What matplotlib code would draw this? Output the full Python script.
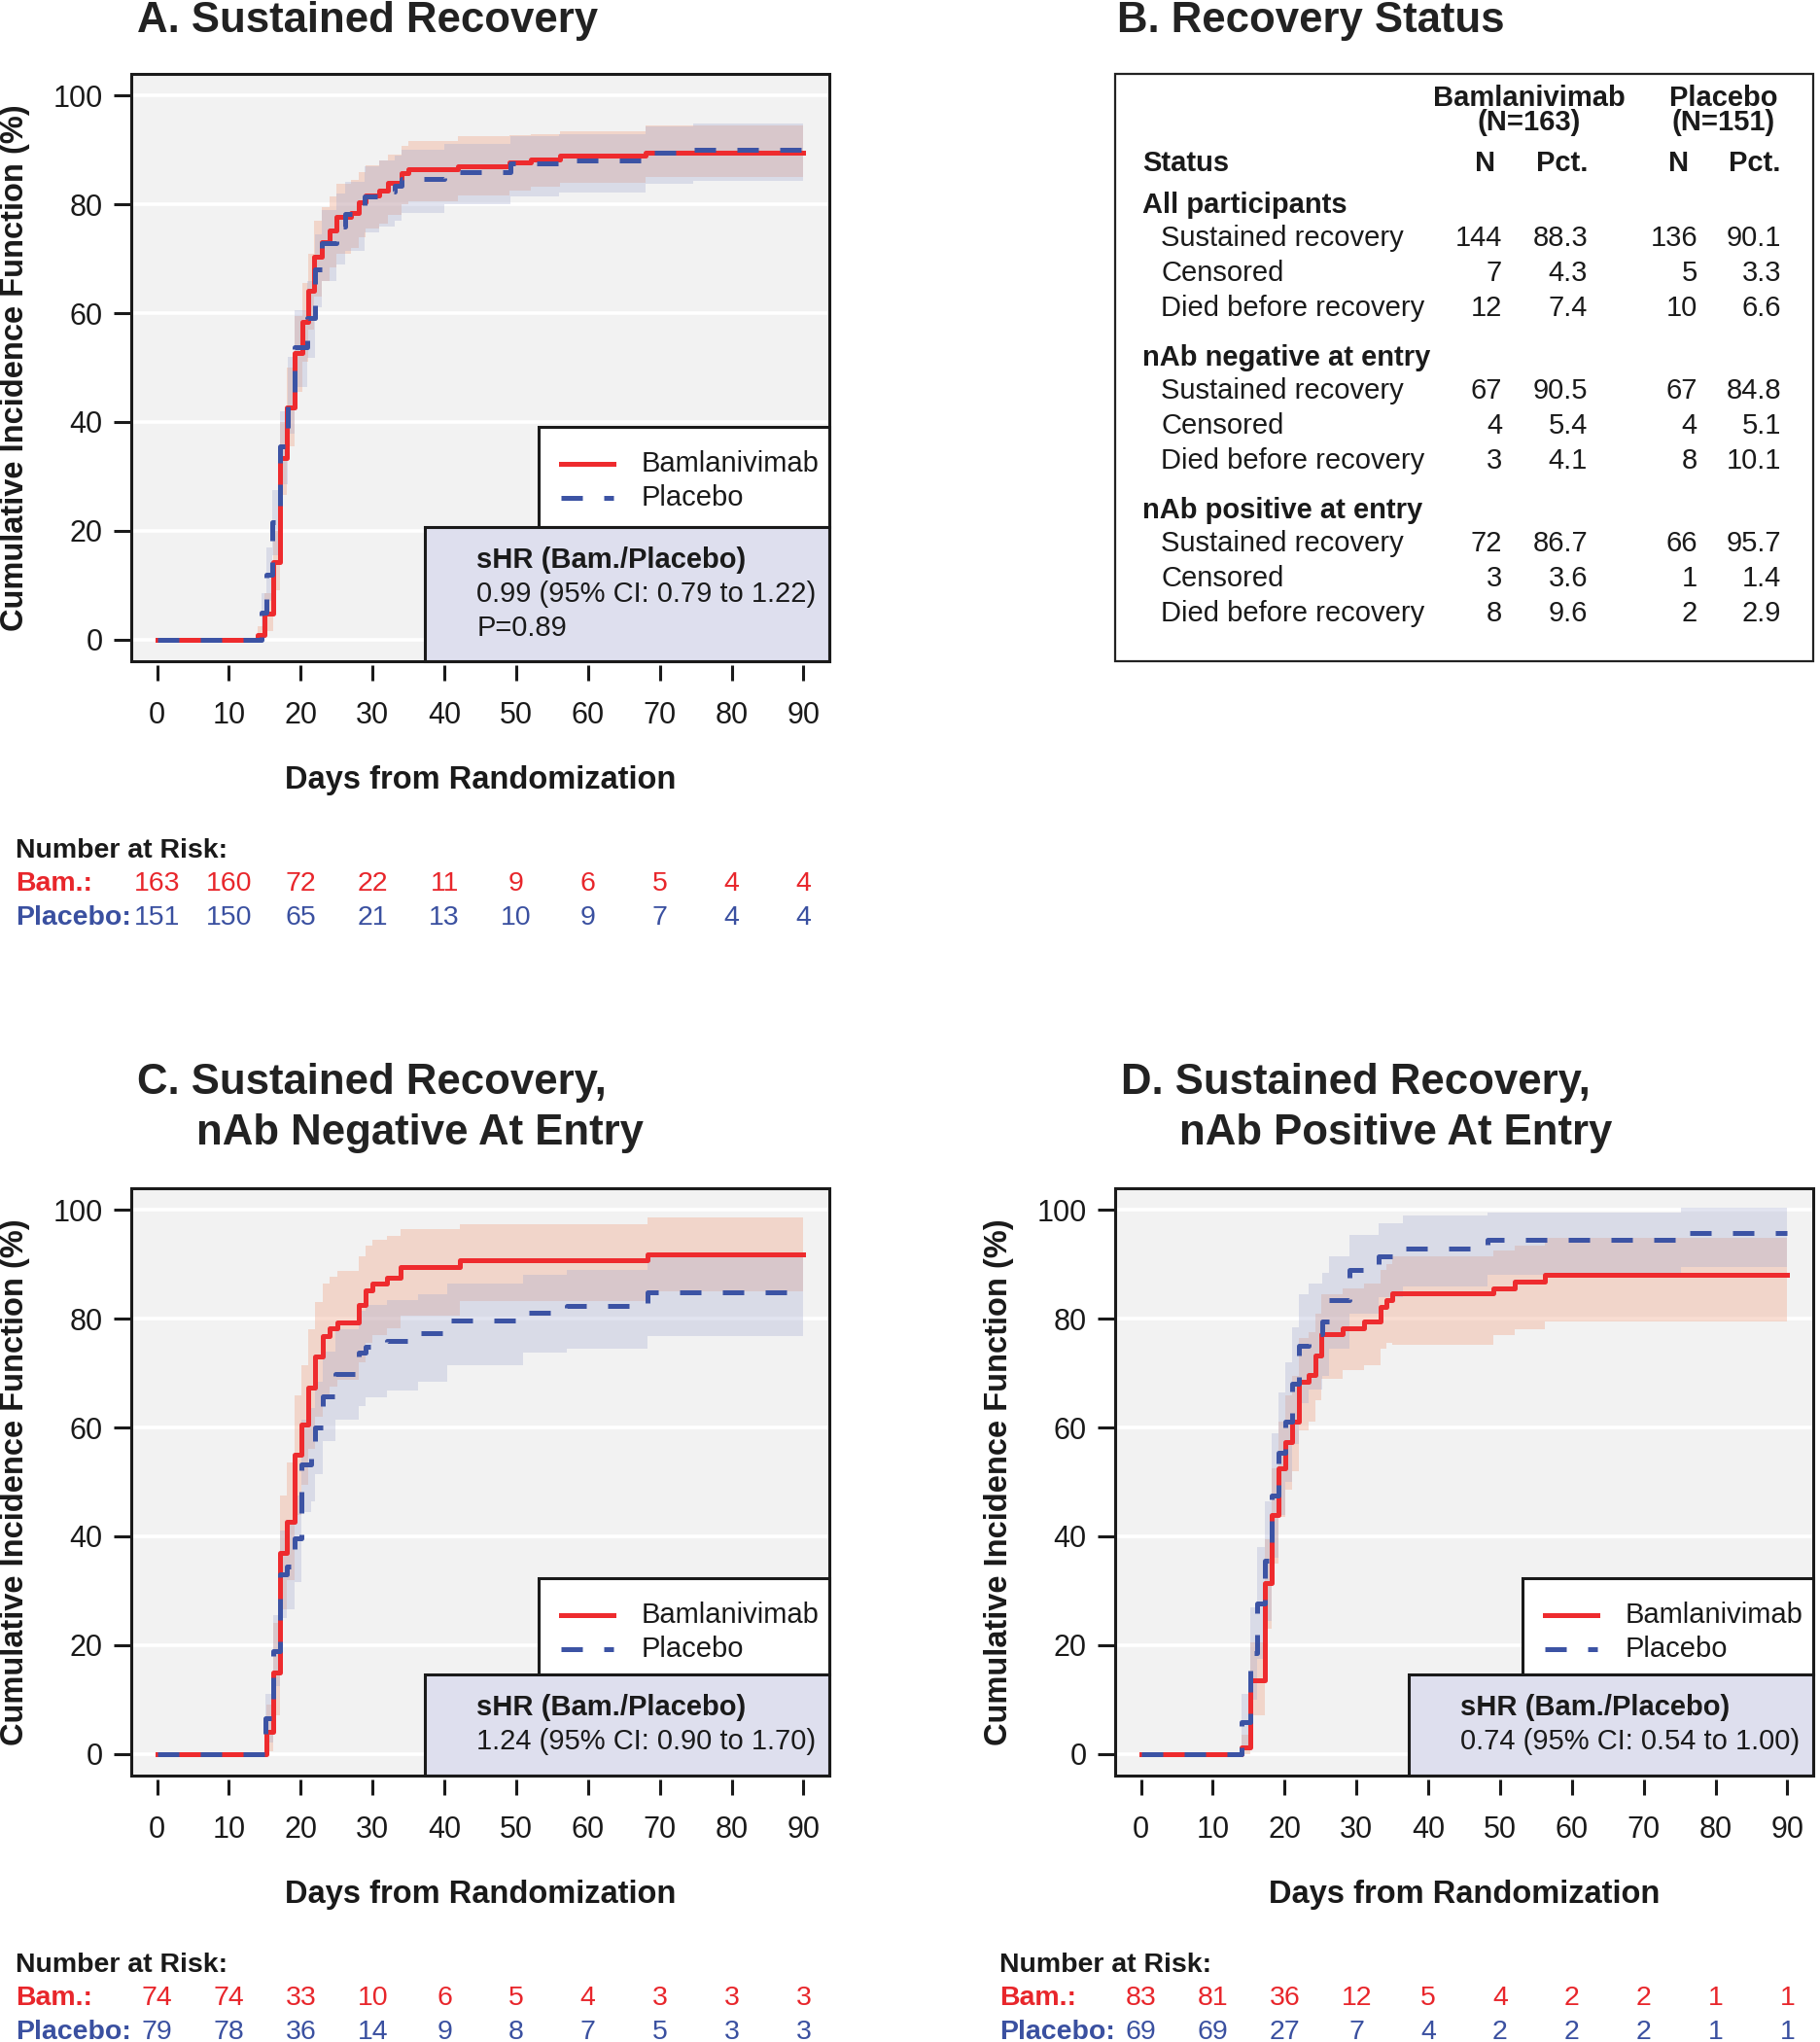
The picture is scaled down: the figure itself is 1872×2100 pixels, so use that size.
import numpy as np
import matplotlib
matplotlib.use("Agg")
import matplotlib.pyplot as plt
from matplotlib.patches import Rectangle
from matplotlib.lines import Line2D
from matplotlib.transforms import blended_transform_factory

plt.rcParams['font.family'] = ['Liberation Sans', 'DejaVu Sans']

RED = '#EE2B2E'
BLUE = '#3C53A4'
RED_TXT = '#E8262B'
BLUE_TXT = '#3A50A0'

# ---- Panel A: all participants ----
a_bam_t = [0, 14.0, 14.9, 16.2, 17.1, 18.0, 19.1, 20.2, 21.0, 21.8, 22.9, 24.0, 25.0, 27.0, 28.1, 29.0, 30.9, 32.2, 34.1, 35.0, 41.9, 49.0, 52.0, 56.1, 68.0]
a_bam_est = [0, 0.9, 4.7, 14.3, 33.3, 42.7, 52.7, 58.4, 64.2, 70.3, 73.1, 75.3, 77.8, 78.5, 80.4, 81.7, 82.6, 83.9, 85.7, 86.4, 87.1, 87.8, 88.3, 89.0, 89.5]
a_bam_lo = [0, 0, 1.5, 9.0, 26.5, 35.5, 45.5, 51.0, 57.0, 63.0, 66.0, 68.5, 71.0, 72.0, 74.0, 75.5, 76.5, 78.0, 80.0, 80.6, 81.7, 82.6, 83.2, 83.9, 85.0]
a_bam_hi = [0, 2.5, 8.5, 20.0, 40.0, 50.0, 59.5, 65.5, 71.0, 77.0, 79.5, 81.5, 83.8, 84.5, 86.0, 87.2, 88.0, 89.2, 90.8, 91.6, 92.5, 92.8, 93.0, 93.5, 94.5]
a_pla_t = [0, 14.5, 15.2, 16.0, 17.1, 18.2, 19.1, 20.9, 22.0, 22.9, 25.0, 26.2, 28.9, 30.9, 33.1, 34.1, 40.0, 49.2, 56.0, 68.0, 74.6]
a_pla_est = [0, 5.0, 11.9, 21.5, 35.5, 45.2, 53.8, 59.1, 68.1, 72.8, 76.0, 78.3, 81.4, 82.4, 83.5, 84.7, 86.0, 87.5, 88.0, 89.5, 90.0]
a_pla_lo = [0, 1.8, 7.0, 15.5, 28.5, 37.8, 46.5, 51.8, 61.0, 66.0, 69.0, 71.5, 74.8, 76.0, 77.0, 78.5, 80.0, 81.5, 82.2, 83.8, 84.4]
a_pla_hi = [0, 8.5, 17.0, 27.5, 42.0, 52.0, 60.5, 66.0, 74.5, 79.0, 82.0, 84.2, 87.0, 88.0, 89.0, 90.0, 91.2, 92.5, 93.0, 94.3, 94.8]

# ---- Panel C: nAb negative ----
c_bam_t = [0, 15.2, 16.2, 17.1, 18.0, 19.1, 20.1, 21.1, 22.0, 23.1, 24.0, 25.1, 28.1, 29.0, 30.0, 32.0, 33.9, 42.1, 68.3]
c_bam_est = [0, 4.0, 15.0, 36.9, 42.6, 55.0, 60.6, 67.3, 73.0, 76.8, 78.2, 79.3, 82.5, 85.3, 86.5, 87.6, 89.5, 90.7, 91.9]
c_bam_lo = [0, 0.5, 7.0, 26.5, 32.0, 44.0, 49.5, 56.0, 62.0, 66.0, 67.5, 68.8, 72.0, 75.5, 77.0, 78.3, 80.5, 83.3, 85.0]
c_bam_hi = [0, 9.0, 24.0, 47.5, 53.5, 66.0, 71.5, 78.0, 83.0, 86.5, 87.8, 88.8, 91.5, 93.5, 94.5, 95.3, 96.5, 97.3, 98.6]
c_pla_t = [0, 15.1, 16.2, 17.1, 18.0, 19.1, 20.1, 21.5, 22.0, 23.1, 24.8, 28.1, 29.0, 32.0, 36.3, 40.4, 51.0, 57.0, 68.3]
c_pla_est = [0, 6.5, 18.9, 33.0, 34.5, 39.6, 53.2, 55.0, 60.0, 65.8, 69.8, 73.7, 74.8, 76.0, 77.4, 79.7, 81.1, 82.3, 84.9]
c_pla_lo = [0, 2.0, 12.5, 25.0, 26.5, 31.5, 44.5, 46.5, 51.5, 57.5, 61.5, 64.0, 65.5, 66.8, 68.5, 71.4, 73.7, 74.5, 76.9]
c_pla_hi = [0, 11.0, 25.5, 41.0, 42.5, 47.5, 61.5, 63.5, 68.5, 74.0, 78.0, 81.5, 82.5, 83.5, 84.5, 86.5, 88.0, 89.0, 92.0]

# ---- Panel D: nAb positive ----
d_bam_t = [0, 14.0, 15.2, 17.2, 18.2, 19.1, 20.1, 21.0, 22.0, 23.3, 24.3, 25.1, 28.1, 31.1, 33.3, 34.2, 35.0, 49.0, 52.1, 56.2]
d_bam_est = [0, 1.2, 13.6, 31.4, 44.0, 52.5, 57.4, 61.0, 68.4, 69.6, 73.3, 77.2, 78.3, 79.5, 82.1, 83.5, 84.7, 85.6, 86.8, 88.0]
d_bam_lo = [0, 0, 7.0, 23.0, 35.0, 43.5, 48.5, 52.0, 59.5, 61.0, 65.0, 69.0, 70.5, 71.5, 74.5, 75.5, 75.3, 77.0, 78.0, 79.5]
d_bam_hi = [0, 3.5, 20.5, 39.5, 52.5, 61.0, 66.0, 69.5, 76.5, 77.5, 81.0, 84.5, 85.5, 86.5, 89.0, 90.0, 91.5, 92.5, 93.5, 94.9]
d_pla_t = [0, 14.0, 15.2, 16.2, 17.2, 18.2, 19.1, 20.1, 21.1, 22.0, 23.4, 25.3, 26.2, 29.0, 33.1, 36.5, 48.2, 75.2]
d_pla_est = [0, 5.8, 18.5, 27.7, 35.5, 47.5, 55.3, 61.0, 68.0, 75.0, 77.1, 79.5, 83.5, 89.0, 91.5, 93.0, 94.6, 95.8]
d_pla_lo = [0, 1.5, 10.0, 17.5, 24.5, 36.0, 44.0, 50.0, 57.0, 64.5, 67.0, 69.5, 74.5, 81.0, 84.0, 86.0, 88.0, 89.6]
d_pla_hi = [0, 11.0, 27.0, 38.0, 46.5, 59.0, 66.5, 72.0, 78.5, 84.5, 86.5, 88.5, 91.5, 95.5, 97.5, 99.0, 99.5, 100.5]

# ---- numbers at risk ----
risk_days = [0, 10, 20, 30, 40, 50, 60, 70, 80, 90]
a_risk_bam = [163, 160, 72, 22, 11, 9, 6, 5, 4, 4]
a_risk_pla = [151, 150, 65, 21, 13, 10, 9, 7, 4, 4]
c_risk_bam = [74, 74, 33, 10, 6, 5, 4, 3, 3, 3]
c_risk_pla = [79, 78, 36, 14, 9, 8, 7, 5, 3, 3]
d_risk_bam = [83, 81, 36, 12, 5, 4, 2, 2, 1, 1]
d_risk_pla = [69, 69, 27, 7, 4, 2, 2, 2, 1, 1]

# ---- table B ----
tbl_groups = ['All participants', 'nAb negative at entry', 'nAb positive at entry']
tbl_status = ['Sustained recovery', 'Censored', 'Died before recovery']
tbl_bam_n = [[144, 7, 12], [67, 4, 3], [72, 3, 8]]
tbl_bam_pct = [['88.3', '4.3', '7.4'], ['90.5', '5.4', '4.1'], ['86.7', '3.6', '9.6']]
tbl_pla_n = [[136, 5, 10], [67, 4, 8], [66, 1, 2]]
tbl_pla_pct = [['90.1', '3.3', '6.6'], ['84.8', '5.1', '10.1'], ['95.7', '1.4', '2.9']]

W, H = 1872, 2100
fig = plt.figure(figsize=(W / 100, H / 100), dpi=100)


def fx(x):
    return x / W


def fy(y):
    return 1 - y / H


def step(t, v):
    return list(t) + [90], list(v) + [v[-1]]


def km_panel(left, top, bam, pla, shr_lines, risk_bam, risk_pla, risk_y):
    ax = fig.add_axes([fx(left), fy(top + 604), 718 / W, 604 / H])
    ax.set_facecolor('#F2F2F2')
    ax.set_xlim(-3.6, 93.6)
    ax.set_ylim(-4, 104)
    for y in range(0, 101, 20):
        ax.axhline(y, color='white', lw=2.6, zorder=0.5)
    for (t, est, lo, hi), fc, alpha in [(bam, '#F0A080', 0.35), (pla, '#A0A8D0', 0.30)]:
        tt, ll = step(t, lo)
        _, hh = step(t, hi)
        ax.fill_between(tt, ll, hh, step='post', color=fc, alpha=alpha, lw=0, zorder=1)
    tt, ee = step(bam[0], bam[1])
    ax.step(tt, ee, where='post', color=RED, lw=3.6, zorder=3)
    tt, ee = step(pla[0], pla[1])
    ax.step(tt, ee, where='post', color=BLUE, lw=3.6, ls=(0, (4.4, 4.4)), zorder=4)

    for s in ax.spines.values():
        s.set_visible(False)
    ax.spines['bottom'].set_position(('outward', 3))
    ax.add_patch(Rectangle((0, 0), 1, 1, transform=ax.transAxes, fill=False,
                           lw=2.2, ec='#1a1a1a', clip_on=False, zorder=10))
    ax.set_xticks(risk_days)
    ax.set_yticks(range(0, 101, 20))
    ax.tick_params(axis='y', length=13, width=2.2, pad=8, labelsize=22, colors='#1a1a1a')
    ax.tick_params(axis='x', length=11.5, width=2.2, pad=15, labelsize=22, colors='#1a1a1a')

    ax.text(0.5, -0.203, 'Days from Randomization', transform=ax.transAxes,
            ha='center', va='center', fontsize=23.5, fontweight='bold', color='#1a1a1a')
    ax.text(-0.167, 0.5, 'Cumulative Incidence Function (%)', transform=ax.transAxes,
            rotation=90, ha='center', va='center', fontsize=23.5, fontweight='bold', color='#1a1a1a')

    # legend and sHR boxes
    leg_y0 = 0.2285 if len(shr_lines) == 3 else 0.172
    leg_y1 = 0.399 if len(shr_lines) == 3 else 0.3355
    ax.add_patch(Rectangle((0.583, leg_y0), 0.417, leg_y1 - leg_y0, transform=ax.transAxes,
                           fc='white', ec='#1a1a1a', lw=2.2, zorder=6, clip_on=False))
    ax.add_patch(Rectangle((0.421, 0), 0.579, leg_y0, transform=ax.transAxes,
                           fc='#DEDFEE', ec='#1a1a1a', lw=2.2, zorder=6, clip_on=False))
    ly1 = leg_y1 - 0.063
    ly2 = ly1 - 0.058
    ax.add_line(Line2D([0.616, 0.691], [ly1, ly1], transform=ax.transAxes, color=RED, lw=3.6, zorder=7))
    ax.add_line(Line2D([0.616, 0.691], [ly2, ly2], transform=ax.transAxes, color=BLUE, lw=3.6,
                       ls=(0, (4.4, 4.4)), zorder=7))
    ax.text(0.730, ly1, 'Bamlanivimab', transform=ax.transAxes, ha='left', va='center',
            fontsize=21, color='#1a1a1a', zorder=8)
    ax.text(0.730, ly2, 'Placebo', transform=ax.transAxes, ha='left', va='center',
            fontsize=21, color='#1a1a1a', zorder=8)
    sy = leg_y0 - 0.056
    for i, line in enumerate(shr_lines):
        ax.text(0.495, sy - i * 0.0585, line, transform=ax.transAxes, ha='left', va='center',
                fontsize=21, fontweight='bold' if i == 0 else 'normal', color='#1a1a1a', zorder=8)

    # numbers at risk
    lab_x = left - 119
    ry = risk_y + 3
    fig.text(fx(lab_x), fy(ry), 'Number at Risk:', ha='left', va='center',
             fontsize=20.5, fontweight='bold', color='#1a1a1a')
    fig.text(fx(lab_x), fy(ry + 34), 'Bam.:', ha='left', va='center',
             fontsize=20.5, fontweight='bold', color=RED_TXT)
    fig.text(fx(lab_x), fy(ry + 69), 'Placebo:', ha='left', va='center',
             fontsize=20.5, fontweight='bold', color=BLUE_TXT)
    tr = blended_transform_factory(ax.transData, fig.transFigure)
    for d, nb, npl in zip(risk_days, risk_bam, risk_pla):
        ax.text(d, fy(ry + 34), str(nb), transform=tr, ha='center', va='center',
                fontsize=20.5, color=RED_TXT, clip_on=False)
        ax.text(d, fy(ry + 69), str(npl), transform=tr, ha='center', va='center',
                fontsize=20.5, color=BLUE_TXT, clip_on=False)
    return ax


km_panel(135, 76, (a_bam_t, a_bam_est, a_bam_lo, a_bam_hi), (a_pla_t, a_pla_est, a_pla_lo, a_pla_hi),
         ['sHR (Bam./Placebo)', '0.99 (95% CI: 0.79 to 1.22)', 'P=0.89'], a_risk_bam, a_risk_pla, 872)
km_panel(135, 1222, (c_bam_t, c_bam_est, c_bam_lo, c_bam_hi), (c_pla_t, c_pla_est, c_pla_lo, c_pla_hi),
         ['sHR (Bam./Placebo)', '1.24 (95% CI: 0.90 to 1.70)'], c_risk_bam, c_risk_pla, 2018)
km_panel(1147, 1222, (d_bam_t, d_bam_est, d_bam_lo, d_bam_hi), (d_pla_t, d_pla_est, d_pla_lo, d_pla_hi),
         ['sHR (Bam./Placebo)', '0.74 (95% CI: 0.54 to 1.00)'], d_risk_bam, d_risk_pla, 2018)

# titles
title_kw = dict(ha='left', va='center', fontsize=31.5, fontweight='bold', color='#222222')
fig.text(fx(141), fy(21), 'A. Sustained Recovery', **title_kw)
fig.text(fx(1149), fy(21), 'B. Recovery Status', **title_kw)
fig.text(fx(141), fy(1114), 'C. Sustained Recovery,', **title_kw)
fig.text(fx(202), fy(1166), 'nAb Negative At Entry', **title_kw)
fig.text(fx(1153), fy(1114), 'D. Sustained Recovery,', **title_kw)
fig.text(fx(1213), fy(1166), 'nAb Positive At Entry', **title_kw)

# ---- panel B table ----
fig.patches.append(Rectangle((fx(1147), fy(680)), 718 / W, 604 / H, transform=fig.transFigure,
                             fill=False, ec='#222222', lw=1.6))
tk = dict(fontsize=21, color='#1a1a1a', va='center')
fig.text(fx(1573), fy(101), 'Bamlanivimab', ha='center', fontweight='bold', **tk)
fig.text(fx(1573), fy(126), '(N=163)', ha='center', fontweight='bold', **tk)
fig.text(fx(1773), fy(101), 'Placebo', ha='center', fontweight='bold', **tk)
fig.text(fx(1773), fy(126), '(N=151)', ha='center', fontweight='bold', **tk)
fig.text(fx(1175), fy(168), 'Status', ha='left', fontweight='bold', **tk)
fig.text(fx(1528), fy(168), 'N', ha='center', fontweight='bold', **tk)
fig.text(fx(1633), fy(168), 'Pct.', ha='right', fontweight='bold', **tk)
fig.text(fx(1727), fy(168), 'N', ha='center', fontweight='bold', **tk)
fig.text(fx(1832), fy(168), 'Pct.', ha='right', fontweight='bold', **tk)
group_y = [211, 368, 525]
for g, gy in enumerate(group_y):
    fig.text(fx(1175), fy(gy), tbl_groups[g], ha='left', fontweight='bold', **tk)
    for r in range(3):
        ry = gy + 34 + r * 36.2
        fig.text(fx(1194), fy(ry), tbl_status[r], ha='left', **tk)
        fig.text(fx(1545), fy(ry), str(tbl_bam_n[g][r]), ha='right', **tk)
        fig.text(fx(1633), fy(ry), tbl_bam_pct[g][r], ha='right', **tk)
        fig.text(fx(1746), fy(ry), str(tbl_pla_n[g][r]), ha='right', **tk)
        fig.text(fx(1832), fy(ry), tbl_pla_pct[g][r], ha='right', **tk)

fig.savefig('out.png', dpi=100, facecolor='white')
